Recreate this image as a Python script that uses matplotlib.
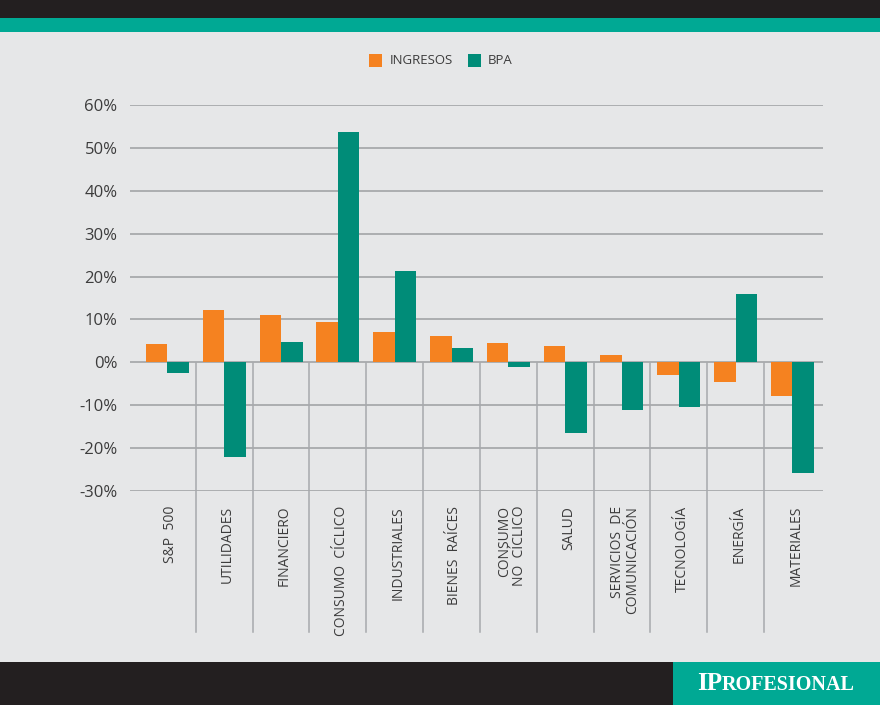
import matplotlib
matplotlib.use("Agg")
import matplotlib.pyplot as plt
import numpy as np
from matplotlib.patches import Rectangle
from matplotlib.lines import Line2D

categories = ["S&P  500", "UTILIDADES", "FINANCIERO", "CONSUMO  CÍCLICO", "INDUSTRIALES",
              "BIENES  RAÍCES", "CONSUMO\nNO  CÍCLICO", "SALUD", "SERVICIOS  DE\nCOMUNICACIÓN",
              "TECNOLOGÍA", "ENERGÍA", "MATERIALES"]
ingresos = [4.2, 12.1, 11.1, 9.3, 7.1, 6.1, 4.5, 3.8, 1.8, -2.9, -4.6, -7.9]
bpa = [-2.6, -22.0, 4.7, 53.8, 21.2, 3.3, -1.2, -16.5, -11.0, -10.4, 15.9, -25.7]
yticks = [-30, -20, -10, 0, 10, 20, 30, 40, 50, 60]
ytick_labels = ["-30%", "-20%", "-10%", "0%", "10%", "20%", "30%", "40%", "50%", "60%"]
series_names = ["INGRESOS", "BPA"]

BG = "#E6E7E8"
ORANGE = "#F58220"
TEAL = "#008C78"
TEAL_BAND = "#00A994"
DARK = "#231F20"
GRID = "#A7A9AC"
TEXT = "#3C3C3C"

FONT = ["Open Sans", "DejaVu Sans"]
plt.rcParams['font.family'] = FONT

W, H = 880, 705
fig = plt.figure(figsize=(W / 100, H / 100), dpi=100, facecolor=BG)

def fx(px):
    return px / W

def fy(py):
    return 1 - py / H

# header bars
fig.add_artist(Rectangle((0, fy(18)), 1, 18 / H, transform=fig.transFigure, color=DARK, lw=0))
fig.add_artist(Rectangle((0, fy(32)), 1, 14 / H, transform=fig.transFigure, color=TEAL_BAND, lw=0))
# footer
fig.add_artist(Rectangle((0, 0), 1, fy(662), transform=fig.transFigure, color=DARK, lw=0))
fig.add_artist(Rectangle((fx(673), 0), 1 - fx(673), fy(662), transform=fig.transFigure, color=TEAL_BAND, lw=0))

ax = fig.add_axes([fx(130), fy(491), fx(823) - fx(130), fy(105) - fy(491)])
ax.set_facecolor(BG)
x = np.arange(len(categories))
w = 0.378
ax.bar(x - w / 2, ingresos, width=w, color=ORANGE, zorder=3, label=series_names[0])
ax.bar(x + w / 2, bpa, width=w, color=TEAL, zorder=3, label=series_names[1])

ax.set_xlim(-0.66, 11.54)
ax.set_ylim(-30, 60)
ax.set_yticks(yticks)
ax.set_yticklabels(ytick_labels, fontsize=12, color=TEXT)
ax.tick_params(axis='y', length=0, pad=9)
ax.set_xticks([])
for s in ax.spines.values():
    s.set_visible(False)
for t in yticks:
    ax.axhline(t, color=GRID, lw=1.3, zorder=1)

# category separators (from zero line down into the label area)
xt = ax.get_xaxis_transform()
for i in range(len(categories) - 1):
    ax.add_line(Line2D([i + 0.5, i + 0.5], [(491 - 363) / 386, (491 - 632) / 386],
                       transform=xt, color=GRID, lw=1.1, clip_on=False, zorder=1))

for i, c in enumerate(categories):
    ax.text(i + 0.06, (491 - 506) / 386, c, transform=xt, rotation=90, ha='center', va='top',
            fontsize=10, color=TEXT, linespacing=1.0, multialignment='right')

# legend
fig.add_artist(Rectangle((fx(369), fy(67)), 13 / W, 13 / H, transform=fig.transFigure, color=ORANGE, lw=0))
fig.text(fx(390), fy(61), series_names[0], fontsize=9.5, color=TEXT, va='center', ha='left')
fig.add_artist(Rectangle((fx(468), fy(67)), 13 / W, 13 / H, transform=fig.transFigure, color=TEAL, lw=0))
fig.text(fx(488), fy(61), series_names[1], fontsize=9.5, color=TEXT, va='center', ha='left')

# logo
serif = ["Liberation Serif", "DejaVu Serif"]
t1 = fig.text(fx(697), fy(690), "IP", fontsize=18, color="white", family=serif, weight='bold',
              ha='left', va='baseline')
fig.canvas.draw()
t2 = fig.text(0, 0, "ROFESIONAL", fontsize=14.5, color="white", family=serif, weight='bold',
              ha='left', va='baseline')
bb = t1.get_window_extent(renderer=fig.canvas.get_renderer())
t2.set_position((bb.x1 / fig.bbox.width, fy(690)))

fig.savefig("out.png", dpi=100, facecolor=BG)
